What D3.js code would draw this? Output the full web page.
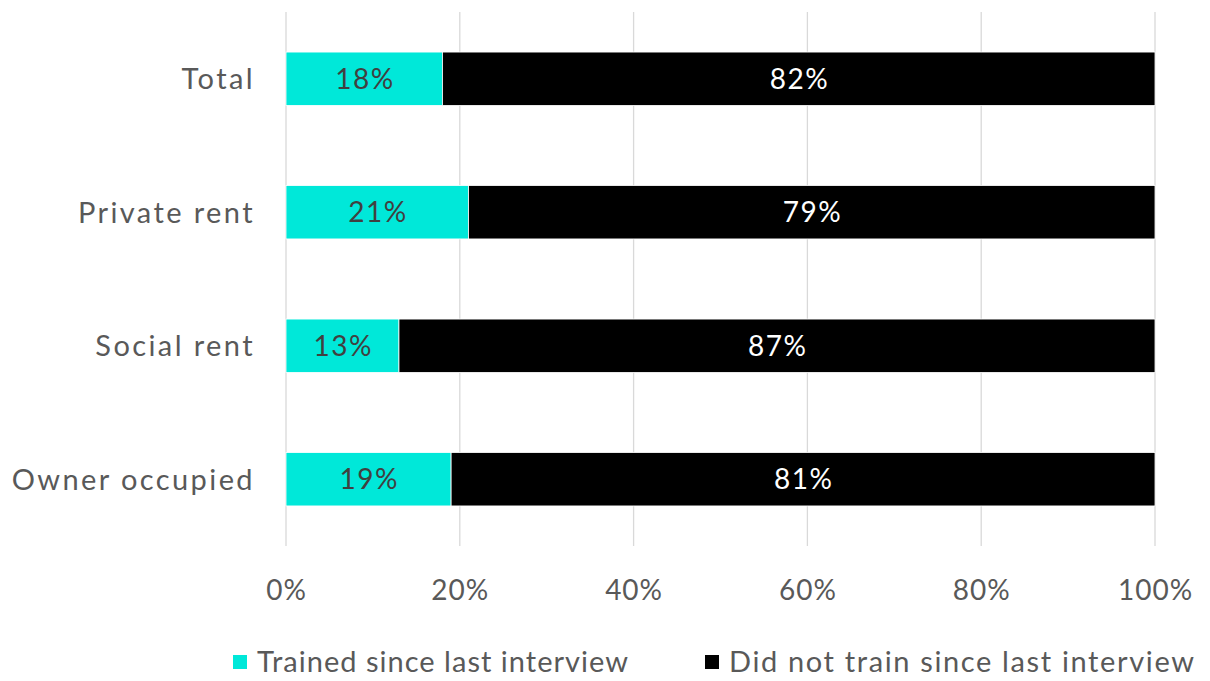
<!DOCTYPE html>
<html><head><meta charset="utf-8">
<script src="https://cdn.jsdelivr.net/npm/d3@7"></script>
<style>body{margin:0;background:#fff}svg{display:block}text{font-family:Lato,"Open Sans",sans-serif}</style>
</head><body>
<svg id="c" width="1210" height="681"></svg>
<script>
const categories = ["Total","Private rent","Social rent","Owner occupied"];
const trained = [18,21,13,19];
const notTrained = [82,79,87,81];
const seriesNames = ["Trained since last interview","Did not train since last interview"];
const ticks = [0,20,40,60,80,100];
const colors = ["#00E8D9","#000000"];

const svg = d3.select("#c");
const x = d3.scaleLinear().domain([0,100]).range([286,1155]);
const y = d3.scaleBand().domain(categories).range([12,546]).paddingInner(0.6).paddingOuter(0.3);

// gridlines
svg.append("g").selectAll("line").data(ticks).join("line")
  .attr("x1",d=>x(d)).attr("x2",d=>x(d)).attr("y1",12).attr("y2",546)
  .attr("stroke","#d9d9d9").attr("stroke-width",1.3);

const rows = categories.map((c,i)=>({c, segs:[{s:0,v0:0,v1:trained[i]},{s:1,v0:trained[i],v1:trained[i]+notTrained[i]}]}));
const g = svg.append("g");
rows.forEach(r=>{
  r.segs.forEach(s=>{
    g.append("rect").attr("x",x(s.v0)).attr("width",x(s.v1)-x(s.v0))
      .attr("y",y(r.c)).attr("height",y.bandwidth())
      .attr("fill",colors[s.s]).attr("stroke","#fff").attr("stroke-width",0.8);
    g.append("text").attr("x",(x(s.v0)+x(s.v1))/2+0.75).attr("y",y(r.c)+y.bandwidth()/2)
      .attr("dy","0.36em").attr("text-anchor","middle").attr("font-size",28)
      .attr("letter-spacing",1.5)
      .attr("fill",s.s===0?"#404040":"#ffffff").text((s.v1-s.v0)+"%");
  });
});

// category axis labels
svg.append("g").selectAll("text").data(categories).join("text")
  .attr("x",255).attr("y",d=>y(d)+y.bandwidth()/2).attr("dy","0.36em")
  .attr("text-anchor","end").attr("font-size",29).attr("letter-spacing",2.4)
  .attr("fill","#595959").text(d=>d);

// x tick labels
svg.append("g").selectAll("text").data(ticks).join("text")
  .attr("x",d=>x(d)+0.5).attr("y",590).attr("dy","0.36em")
  .attr("text-anchor","middle").attr("font-size",28).attr("letter-spacing",1)
  .attr("fill","#595959").text(d=>d+"%");

// legend
const legX = [233,705];
const legW = [371,465];
const lg = svg.append("g");
seriesNames.forEach((n,i)=>{
  lg.append("rect").attr("x",legX[i]).attr("y",655).attr("width",14).attr("height",14).attr("fill",colors[i]);
  lg.append("text").attr("x",legX[i]+24).attr("y",662).attr("dy","0.36em")
    .attr("font-size",29).attr("textLength",legW[i]).attr("lengthAdjust","spacing")
    .attr("fill","#595959").text(n);
});
</script>
</body></html>
